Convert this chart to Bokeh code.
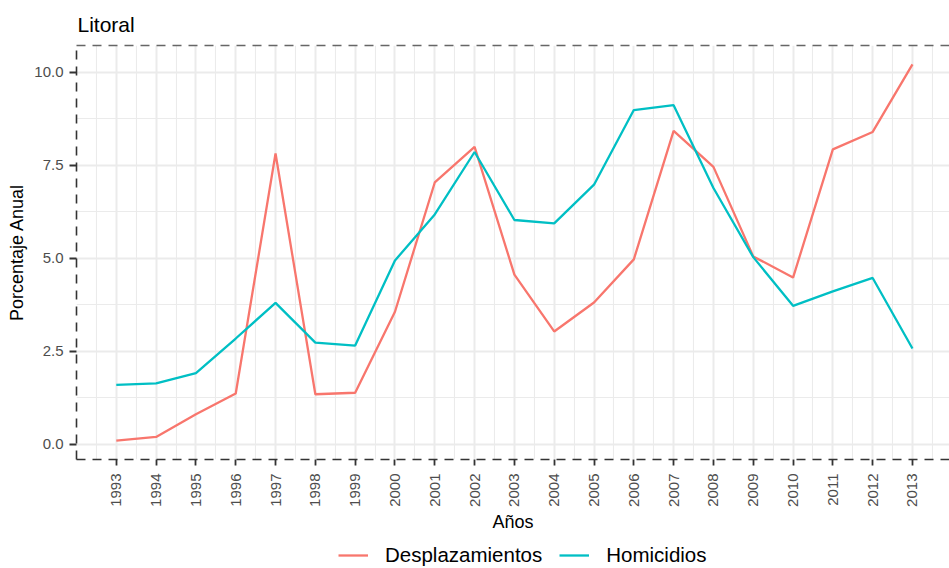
from bokeh.plotting import figure
from bokeh.layouts import column
from bokeh.models import (Range1d, FixedTicker, PrintfTickFormatter, Legend, LegendItem,
                          LinearAxis, ColumnDataSource)
from bokeh.embed import file_html
from bokeh.resources import INLINE

years = list(range(1993, 2014))
desplazamientos = [0.09, 0.19, 0.80, 1.36, 7.82, 1.34, 1.38, 3.56, 7.04, 8.00, 4.56,
                   3.03, 3.81, 4.97, 8.43, 7.46, 5.05, 4.48, 7.93, 8.40, 10.22]
homicidios = [1.59, 1.63, 1.91, 2.84, 3.80, 2.73, 2.65, 4.94, 6.18, 7.86, 6.03,
              5.94, 6.98, 8.99, 9.12, 6.89, 5.03, 3.72, 4.11, 4.47, 2.57]
y_ticks = [0, 2.5, 5, 7.5, 10]
y_minor = [1.25, 3.75, 6.25, 8.75]
title_text = "Litoral"
x_label = "Años"
y_label = "Porcentaje Anual"
series_names = ["Desplazamientos", "Homicidios"]
colors = ["#F8766D", "#00BFC4"]

FONT = "Liberation Sans"

# ggplot-like 5% expansion
ymin, ymax = min(desplazamientos + homicidios), max(desplazamientos + homicidios)
yr = ymax - ymin
xr = years[-1] - years[0]

src = ColumnDataSource(dict(year=years, d=desplazamientos, h=homicidios))

p = figure(width=949, height=538, output_backend="svg", toolbar_location=None,
           x_range=Range1d(years[0] - 0.05 * xr, years[-1] + 0.93),
           y_range=Range1d(ymin - 0.05 * yr, ymax + 0.05 * yr),
           min_border_left=76, min_border_right=0, min_border_top=41, min_border_bottom=79)

p.title.text = title_text
p.title.text_font = FONT
p.title.text_font_size = "21px"
p.title.text_font_style = "normal"
p.title.text_color = "black"
p.title.offset = 1
p.title.standoff = 20

p.background_fill_color = "white"
p.border_fill_color = "white"
p.outline_line_color = None

r1 = p.line("year", "d", source=src, line_color=colors[0], line_width=2.3)
r2 = p.line("year", "h", source=src, line_color=colors[1], line_width=2.3)

minor_x = [y - 0.5 for y in years] + [years[-1] + 0.5]
p.xaxis.ticker = FixedTicker(ticks=years, minor_ticks=minor_x)
p.yaxis.ticker = FixedTicker(ticks=y_ticks, minor_ticks=y_minor)
p.yaxis.formatter = PrintfTickFormatter(format="%.1f")

for ax in (p.xaxis[0], p.yaxis[0]):
    ax.axis_line_color = "#333333"
    ax.axis_line_dash = "9 7"
    ax.axis_line_width = 1.6
    ax.major_tick_line_color = "#333333"
    ax.major_tick_line_width = 1.8
    ax.major_tick_in = 0
    ax.minor_tick_line_color = None
    ax.major_label_text_font = FONT
    ax.major_label_text_font_size = "15px"
    ax.major_label_text_color = "#4d4d4d"
    ax.axis_label_text_font = FONT
    ax.axis_label_text_font_size = "18px"
    ax.axis_label_text_font_style = "normal"
    ax.axis_label_text_color = "black"

p.xaxis.axis_label = x_label
p.yaxis.axis_label = y_label
p.xaxis.major_label_orientation = 1.5708
p.xaxis.major_tick_out = 6
p.xaxis.major_label_standoff = 8
p.xaxis.axis_label_standoff = 2
p.yaxis.major_tick_out = 7
p.yaxis.major_label_standoff = 6
p.yaxis.axis_label_standoff = 4

top = LinearAxis(ticker=FixedTicker(ticks=[]), axis_line_color="#666666",
                 axis_line_dash="9 7", axis_line_width=1.6,
                 major_tick_line_color=None, minor_tick_line_color=None,
                 major_label_text_font_size="0px")
p.add_layout(top, "above")

for g in (p.xgrid[0], p.ygrid[0]):
    g.grid_line_color = "#ebebeb"
    g.grid_line_width = 2
    g.minor_grid_line_color = "#ebebeb"
    g.minor_grid_line_width = 1.1

# legend strip below the chart (its lines are kept out of view; only the key shows)
p2 = figure(width=949, height=30, output_backend="svg", toolbar_location=None, title=None,
            x_range=Range1d(0, 1), y_range=Range1d(100, 101),
            x_axis_location=None, y_axis_location=None, min_border=0,
            outline_line_color=None)
p2.grid.visible = False
k1 = p2.line("year", "d", source=src, line_color=colors[0], line_width=2.3)
k2 = p2.line("year", "h", source=src, line_color=colors[1], line_width=2.3)
legend = Legend(items=[LegendItem(label=series_names[0], renderers=[k1]),
                       LegendItem(label=series_names[1], renderers=[k2])],
                orientation="horizontal", location=(262, 1),
                label_text_font=FONT, label_text_font_size="20.5px", label_text_color="black",
                glyph_width=30, glyph_height=20, label_standoff=17, spacing=17,
                border_line_color=None, background_fill_alpha=0, padding=0, margin=0)
p2.add_layout(legend, "center")

layout = column(p, p2, spacing=0)
open("out.html", "w").write(file_html(layout, INLINE))
